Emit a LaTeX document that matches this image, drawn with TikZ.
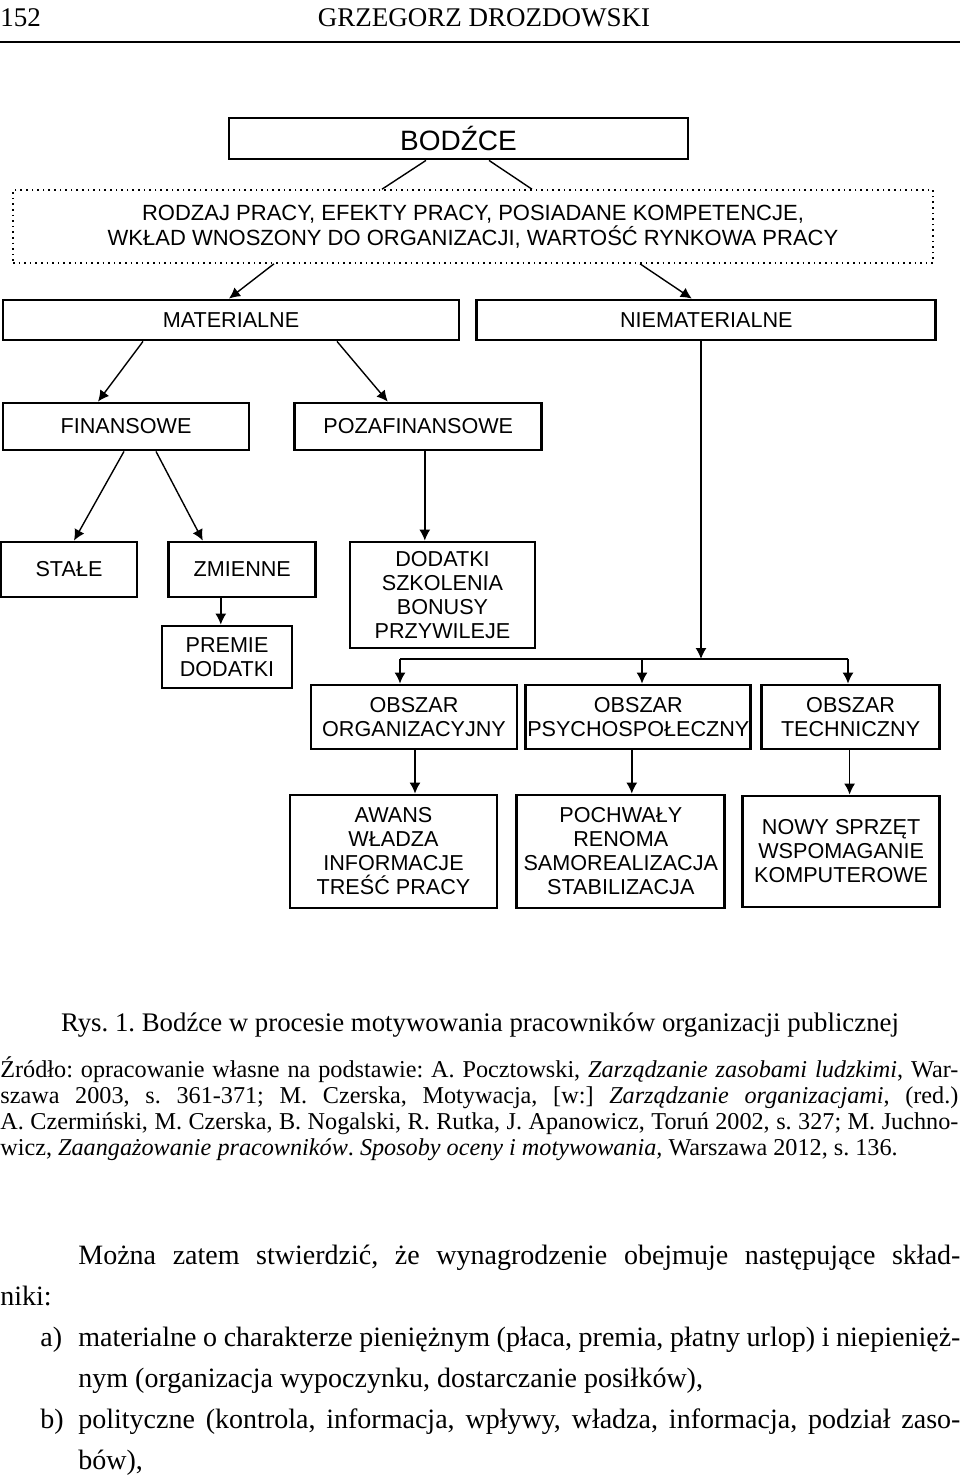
\documentclass[tikz,border=0pt]{standalone}
\usepackage{fontspec}
\setmainfont{Liberation Serif}
\newfontfamily\diagfont{Liberation Sans}
\usetikzlibrary{positioning,arrows.meta}
\frenchspacing

\begin{document}
\begin{tikzpicture}[x=0.5pt, y=-0.5pt,
	main/.style={rectangle, draw=black, line width=1.4pt, align=center, inner sep=0pt, font=\diagfont\fontsize{10.8}{12}\selectfont},
	crit/.style={rectangle, draw=black, dotted, line width=0.8pt, align=center, inner sep=0pt, font=\diagfont\fontsize{11}{12.5}\selectfont},
	arr/.style={-{Latex[length=5.5pt,width=5.5pt]}, line width=0.7pt},
	txt/.style={inner sep=0pt}
	]
	\useasboundingbox (0,0) rectangle (960,1479);

	% naglowek strony
	\node (strona) [txt, anchor=base west, font=\fontsize{13.5}{16}\selectfont] at (0,26) {152};
	\node (autor) [txt, anchor=base, font=\fontsize{13.5}{16}\selectfont] at (484,26) {GRZEGORZ DROZDOWSKI};
	\draw [line width=1pt] (0,42) -- (960,42);

	% schemat
	\node (bodzce) [main, minimum width=229.5pt, minimum height=20.5pt, font=\diagfont\fontsize{14}{16}\selectfont] at (458.5,138.5) {BODŹCE};
	\node (kryteria) [crit, minimum width=460pt, minimum height=36.5pt] at (473,226.5) {RODZAJ PRACY, EFEKTY PRACY, POSIADANE KOMPETENCJE,\\ WKŁAD WNOSZONY DO ORGANIZACJI, WARTOŚĆ RYNKOWA PRACY};
		\node (mat) [main, minimum width=228pt, minimum height=20pt] at (231,320) {MATERIALNE};
		\node (niemat) [main, minimum width=229.5pt, minimum height=20pt, right=7.5pt of mat] {NIEMATERIALNE};
			\node (fin) [main, minimum width=123pt, minimum height=23.5pt] at (126,426.5) {FINANSOWE};
			\node (pozafin) [main, minimum width=123.5pt, minimum height=23.5pt, right=21.5pt of fin] {POZAFINANSOWE};
				\node (stale) [main, minimum width=68pt, minimum height=27.5pt] at (69,569.5) {STAŁE};
				\node (zmienne) [main, minimum width=73.5pt, minimum height=27.5pt, right=14.5pt of stale] {ZMIENNE};
				\node (premie) [main, minimum width=65pt, minimum height=31pt] at (227,657) {PREMIE\\DODATKI};
				\node (dodatki) [main, minimum width=92.5pt, minimum height=53pt] at (442.5,595) {DODATKI\\SZKOLENIA\\BONUSY\\PRZYWILEJE};
			\node (obszorg) [main, minimum width=103pt, minimum height=32pt] at (414,717) {OBSZAR\\ORGANIZACYJNY};
			\node (obszpsych) [main, minimum width=112.5pt, minimum height=32pt, right=3pt of obszorg] {OBSZAR\\PSYCHOSPOŁECZNY};
			\node (obsztech) [main, minimum width=89pt, minimum height=32pt, right=4pt of obszpsych] {OBSZAR\\TECHNICZNY};
				\node (awans) [main, minimum width=103.5pt, minimum height=56.5pt] at (393.5,851.5) {AWANS\\WŁADZA\\INFORMACJE\\TREŚĆ PRACY};
				\node (pochwaly) [main, minimum width=104pt, minimum height=56.5pt, right=8.5pt of awans] {POCHWAŁY\\RENOMA\\SAMOREALIZACJA\\STABILIZACJA};
				\node (sprzet) [main, minimum width=98.5pt, minimum height=55.5pt, right=7.5pt of pochwaly] {NOWY SPRZĘT\\WSPOMAGANIE\\KOMPUTEROWE};

	\coordinate (bar) at (701,659);
	\coordinate (barL) at (400,659);
	\coordinate (barM) at (642,659);
	\coordinate (barR) at (848,659);

	\draw [line width=0.7pt] ([xshift=-16.25pt]bodzce.south) -- ([xshift=-45.5pt]kryteria.north);
	\draw [line width=0.7pt] ([xshift=15.25pt]bodzce.south) -- ([xshift=29.5pt]kryteria.north);

	\draw [arr] ([xshift=-99.5pt]kryteria.south) -- ([xshift=-1pt]mat.north);
	\draw [arr] ([xshift=83.5pt]kryteria.south) -- ([xshift=-7.25pt]niemat.north);

	\draw [arr] ([xshift=-44pt]mat.south) -- ([xshift=-14pt]fin.north);
	\draw [arr] ([xshift=53pt]mat.south) -- ([xshift=-15.25pt]pozafin.north);

	\draw [arr] ([xshift=-1pt]fin.south) -- ([xshift=2.5pt]stale.north);
	\draw [arr] ([xshift=15pt]fin.south) -- ([xshift=-19.75pt]zmienne.north);
	\draw [arr] ([xshift=-10.75pt]zmienne.south) -- ([xshift=-10.75pt]zmienne.south |- premie.north);
	\draw [arr] ([xshift=3.25pt]pozafin.south) -- ([xshift=3.25pt]pozafin.south |- dodatki.north);

	\draw [arr] (niemat.south -| bar) -- (bar);
	\draw [line width=0.7pt] (barL) -- (barR);
	\draw [arr] (barL) -- (barL |- obszorg.north);
	\draw [arr] (barM) -- (barM |- obszpsych.north);
	\draw [arr] (barR) -- (barR |- obsztech.north);

	\draw [arr] ([xshift=0.5pt]obszorg.south) -- ([xshift=0.5pt]obszorg.south |- awans.north);
	\draw [arr] ([xshift=-3.25pt]obszpsych.south) -- ([xshift=-3.25pt]obszpsych.south |- pochwaly.north);
	\draw [arr] ([xshift=-0.5pt]obsztech.south) -- ([xshift=-0.5pt]obsztech.south |- sprzet.north);

	% podpis i zrodlo
	\node (podpis) [txt, anchor=base, font=\fontsize{13.4}{16}\selectfont] at (480,1031) {Rys. 1. Bodźce w procesie motywowania pracowników organizacji publicznej};
	\node (zrodlo) [txt, anchor=north west, text width=479pt, align=justify, font=\fontsize{12.1}{13}\selectfont] at (0,1056) {Źródło: opracowanie własne na podstawie: A. Pocztowski, \textit{Zarządzanie zasobami ludzkimi}, War-\linebreak szawa 2003, s. 361-371; M. Czerska, Motywacja, [w:] \textit{Zarządzanie organizacjami}, (red.)\linebreak A. Czermiński, M. Czerska, B. Nogalski, R. Rutka, J. Apanowicz, Toruń 2002, s. 327; M. Juchno-\linebreak wicz, \textit{Zaangażowanie pracowników}. \textit{Sposoby oceny i motywowania,} Warszawa 2012, s. 136.};

	% tekst glowny
	\node (tekst) [txt, anchor=north west, text width=480pt, align=justify, font=\fontsize{14}{20.5}\selectfont] at (0,1245) {\setlength{\parindent}{0pt}\hspace*{39pt}Można zatem stwierdzić, że wynagrodzenie obejmuje następujące skład-\linebreak niki:\par
	\hangindent=39pt\hangafter=1\makebox[39pt][l]{\hspace*{20pt}a)}materialne o charakterze pieniężnym (płaca, premia, płatny urlop) i niepienięż-\linebreak nym (organizacja wypoczynku, dostarczanie posiłków),\par
	\hangindent=39pt\hangafter=1\makebox[39pt][l]{\hspace*{20pt}b)}polityczne (kontrola, informacja, wpływy, władza, informacja, podział zaso-\linebreak bów),\par};
\end{tikzpicture}
\end{document}
